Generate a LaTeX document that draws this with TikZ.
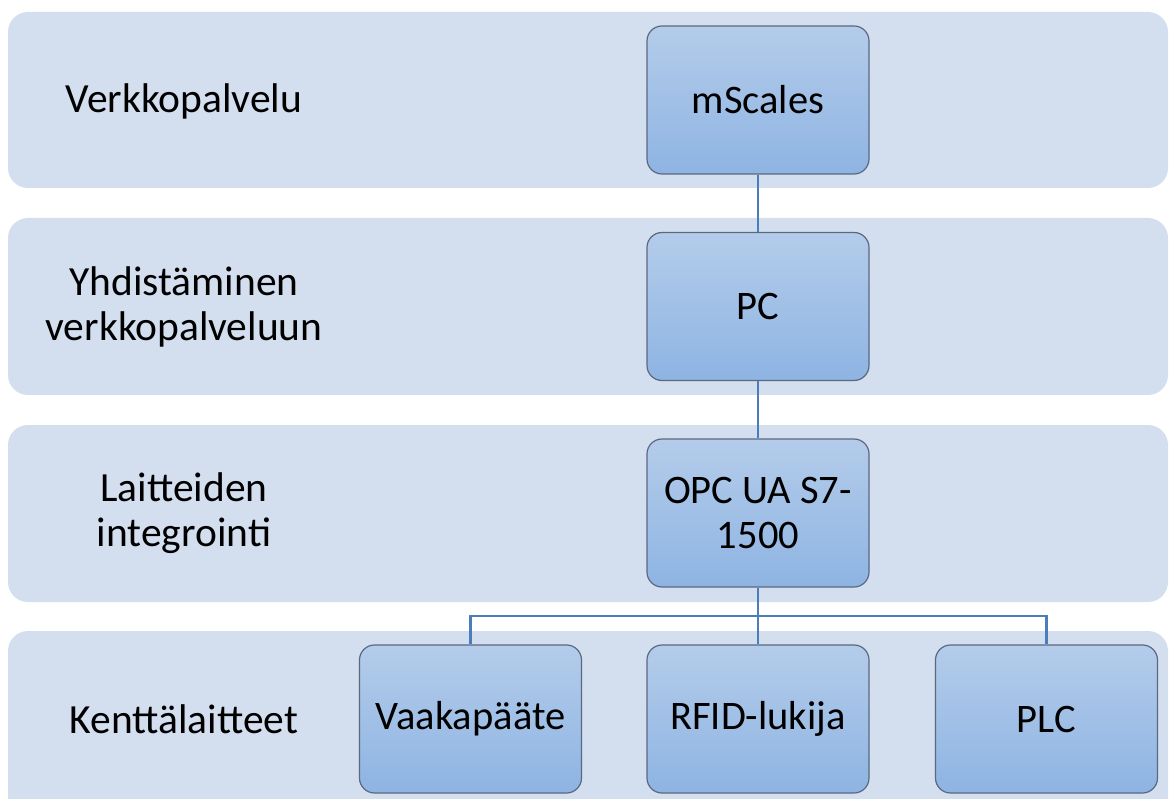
\documentclass[tikz,border=0pt]{standalone}
\usepackage{fontspec}
\setmainfont{Carlito}
\definecolor{bandfill}{RGB}{211,222,239}
\definecolor{boxtop}{RGB}{180,204,234}
\definecolor{boxbot}{RGB}{142,180,227}
\definecolor{boxline}{RGB}{90,104,128}
\definecolor{linkcol}{RGB}{74,126,187}
\begin{document}
\begin{tikzpicture}[x=1pt,y=-1pt,
  band/.style={fill=bandfill, rounded corners=20pt},
  unit/.style={draw=boxline, line width=1.2pt, rounded corners=15pt,
    top color=boxtop, bottom color=boxbot,
    minimum width=222pt, minimum height=148pt, align=center,
    font=\fontsize{40.5}{45}\selectfont, inner sep=0pt},
  lab/.style={align=center, font=\fontsize{41.5}{45}\selectfont},
  link/.style={draw=linkcol, line width=2.8pt}]
\useasboundingbox (0,0) rectangle (1170,799);
\clip (0,0) rectangle (1170,799);
% bands
\fill[band] (8,12) rectangle (1168,188);
\fill[band] (8,218) rectangle (1168,395);
\fill[band] (8,425) rectangle (1168,602);
\fill[band] (8,631) rectangle (1168,830);
% labels
\node[lab] (l1) at (184,101) {Verkkopalvelu};
\node[lab] (l2) at (184,307) {Yhdistäminen\\verkkopalveluun};
\node[lab] (l3) at (184,513) {Laitteiden\\integrointi};
\node[lab] (l4) at (184,719) {Kenttälaitteet};
% units
\node[unit] (ms) at (758,100) {mScales};
\node[unit] (pc) at (758,306.5) {PC};
\node[unit] (opc) at (758,513) {OPC UA S7-\\1500};
\node[unit] (vaaka) at (470.5,719) {Vaakapääte};
\node[unit] (rfid) at (758,719) {RFID-lukija};
\node[unit] (plc) at (1046.5,719) {PLC};
% connectors
\coordinate (bus) at (758,616);
\draw[link] (ms) -- (pc);
\draw[link] (pc) -- (opc);
\draw[link] (opc.south) -- (bus);
\draw[link] (vaaka.north) |- (bus) -| (plc.north);
\draw[link] (bus) -- (rfid.north);
\end{tikzpicture}
\end{document}
